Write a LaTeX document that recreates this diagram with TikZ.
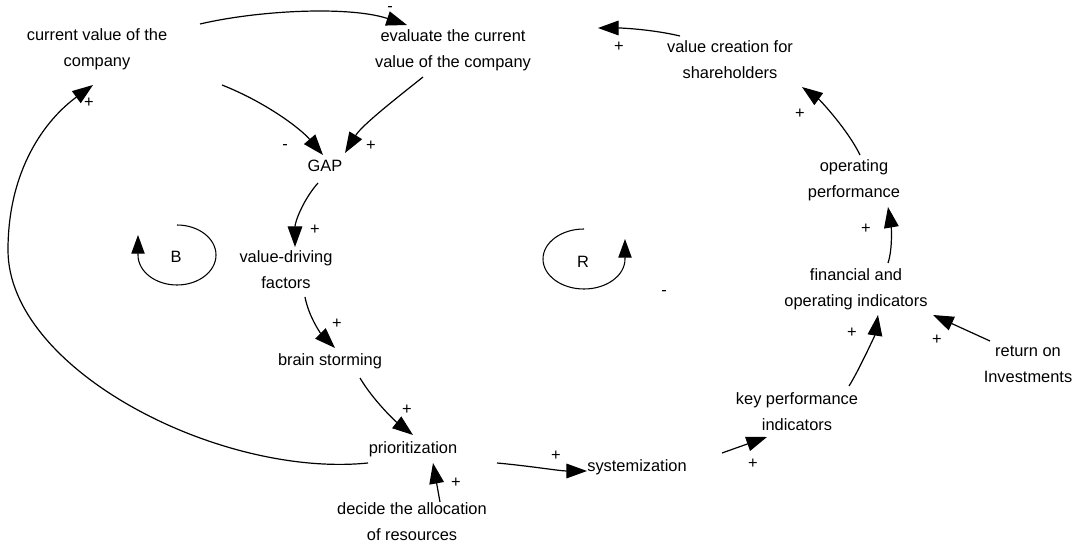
\documentclass[tikz,border=0pt]{standalone}
\usepackage{fontspec}
\setmainfont{Liberation Sans}
\usetikzlibrary{arrows.meta,calc}
\begin{document}
\begin{tikzpicture}[x=0.75pt,y=0.75pt,
  lbl/.style={font=\fontsize{12.3}{19.5}\selectfont, align=center, inner sep=0pt},
  sgn/.style={font=\fontsize{12.3}{14}\selectfont, inner sep=0pt},
  link/.style={line width=0.9pt, -{Triangle[length=15.5pt,width=11pt]}},
  loopline/.style={line width=0.8pt, -{Triangle[length=14pt,width=10pt]}}]
\useasboundingbox (0,0) rectangle (1076,-545);

% variables
\node[lbl] (cv)     at (97,-49)   {current value of the\\company};
\node[lbl] (eval)   at (453,-50)  {evaluate the current\\value of the company};
\node[lbl] (vcs)    at (730,-60)  {value creation for\\shareholders};
\node[lbl] (gap)    at (325,-166) {GAP};
\node[lbl] (vdf)    at (286,-270) {value-driving\\factors};
\node[lbl] (bs)     at (330,-361) {brain storming};
\node[lbl] (prior)  at (413,-449) {prioritization};
\node[lbl] (decide) at (412,-522) {decide the allocation\\of resources};
\node[lbl] (sys)    at (637,-467) {systemization};
\node[lbl] (kpi)    at (797,-412) {key performance\\indicators};
\node[lbl] (fin)    at (856,-289) {financial and\\operating indicators};
\node[lbl] (op)     at (854,-180) {operating\\performance};
\node[lbl] (roi)    at (1028,-364) {return on\\Investments};

% loop labels
\node[lbl] (B) at (176,-257) {B};
\node[lbl] (R) at (583,-262) {R};
\node[sgn] (dash) at (664,-293) {-};

% balancing loop symbol
\draw[loopline] ([shift={(1,32)}]B.center)
  arc[start angle=90, end angle=-180, x radius=39, y radius=30] -- ++(0,20);
% reinforcing loop symbol
\draw[loopline] ([shift={(1,33)}]R.center)
  arc[start angle=90, end angle=360, x radius=41, y radius=30] -- ++(0,20);

% causal links
\draw[link] ([shift={(103,25)}]cv.center) .. controls (260,-10) and (350,-6) .. ([shift={(-46,25)}]eval.center);
\node[sgn] at (390,-9) {-};

\draw[link] ([shift={(125,-36)}]cv.center) .. controls (265,-102) and (300,-128) .. ([shift={(-2,11)}]gap.center);
\node[sgn] at (285,-147) {-};

\draw[link] ([shift={(-30,-27)}]eval.center) .. controls (398,-97) and (362,-125) .. ([shift={(20,13)}]gap.center);
\node[sgn] at (371,-146) {+};

\draw[link] ([shift={(-7,-17)}]gap.center) .. controls (303,-200) and (295,-222) .. ([shift={(9,23)}]vdf.center);
\node[sgn] at (315,-230) {+};

\draw[link] ([shift={(19,-27)}]vdf.center) .. controls (309,-318) and (322,-335) .. ([shift={(5,13)}]bs.center);
\node[sgn] at (337,-324) {+};

\draw[link] ([shift={(30,-17)}]bs.center) .. controls (373,-400) and (395,-421) .. ([shift={(0,14)}]prior.center);
\node[sgn] at (407,-410) {+};

\draw[link] ([shift={(-45,-14)}]prior.center) .. controls (220,-478) and (8,-370) .. (8,-250)
  .. controls (8,-170) and (45,-120) .. ([shift={(-4,-36)}]cv.center);
\node[sgn] at (89,-103) {+};

\draw[link] ([shift={(28,20)}]decide.center) -- ([shift={(20,-14)}]prior.center);
\node[sgn] at (456,-483) {+};

\draw[link] ([shift={(84,-14)}]prior.center) .. controls (530,-466) and (560,-471) .. ([shift={(-50,-4)}]sys.center);
\node[sgn] at (556,-456) {+};

\draw[link] ([shift={(85,14)}]sys.center) -- ([shift={(-30,-25)}]kpi.center);
\node[sgn] at (753,-464) {+};

\draw[link] ([shift={(52,26)}]kpi.center) .. controls (858,-372) and (875,-335) .. ([shift={(22,-26)}]fin.center);
\node[sgn] at (852,-333) {+};

\draw[link] ([shift={(-38,23)}]roi.center) -- ([shift={(77,-26)}]fin.center);
\node[sgn] at (937,-340) {+};

\draw[link] ([shift={(32,26)}]fin.center) .. controls (893,-248) and (891,-225) .. ([shift={(34,-27)}]op.center);
\node[sgn] at (866,-229) {+};

\draw[link] ([shift={(6,25)}]op.center) .. controls (848,-130) and (820,-100) .. ([shift={(72,-27)}]vcs.center);
\node[sgn] at (800,-114) {+};

\coordinate (vcsout) at (598,-28);
\draw[link] ([shift={(-50,24)}]vcs.center) .. controls (655,-30) and (625,-28) .. (vcsout);
\node[sgn] at (619,-47) {+};
\end{tikzpicture}
\end{document}
